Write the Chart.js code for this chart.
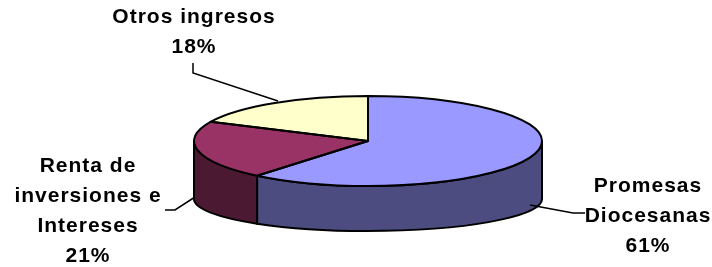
<!DOCTYPE html>
<html>
<head>
<meta charset="utf-8">
<script src="https://cdn.jsdelivr.net/npm/chart.js@4.4.0/dist/chart.umd.min.js"></script>
<style>
  html, body { margin: 0; padding: 0; background: #fff; }
  #wrap { width: 712px; height: 267px; }
</style>
</head>
<body>
<div id="wrap"><canvas id="pie3d" width="712" height="267"></canvas></div>
<script>
// data
var categories = ['Promesas Diocesanas', 'Renta de inversiones e Intereses', 'Otros ingresos'];
var shares = [61, 21, 18];
var labelLines = [['Promesas', 'Diocesanas'], ['Renta de', 'inversiones e', 'Intereses'], ['Otros ingresos']];
var topColors = ['#9999FF', '#993366', '#FFFFCC'];
var sideColors = ['#4C4C80', '#4C1933', '#80806A'];

// label placement (text centre x, first baseline y, leader polyline)
var labelLayout = [
  { x: 648, y: 192, line: [[530, 205], [573, 213], [585, 213]] },
  { x: 88, y: 172, line: [[165, 210], [175, 210], [195, 197]] },
  { x: 194, y: 23, line: [[193, 63], [193, 73], [278, 101]] }
];

var view = { cy: 141, ry: 45, depth: 58, ryBottom: 32 };

function frontRanges(a0, a1) {
  var out = [];
  for (var k = -1; k <= 1; k++) {
    var lo = Math.max(a0, 2 * Math.PI * k), hi = Math.min(a1, 2 * Math.PI * k + Math.PI);
    if (hi > lo) out.push([lo, hi]);
  }
  return out;
}

var pie3d = {
  id: 'pie3d',
  beforeDatasetsDraw: function (chart) {
    var ctx = chart.ctx;
    var arcs = chart.getDatasetMeta(0).data;
    ctx.save();
    ctx.lineWidth = 2;
    ctx.lineJoin = 'round';
    ctx.strokeStyle = '#000';
    arcs.forEach(function (arc, i) {
      var rx = arc.outerRadius;
      frontRanges(arc.startAngle, arc.endAngle).forEach(function (r) {
        ctx.beginPath();
        ctx.ellipse(arc.x, view.cy, rx, view.ry, 0, r[0], r[1]);
        ctx.ellipse(arc.x, view.cy + view.depth, rx, view.ryBottom, 0, r[1], r[0], true);
        ctx.closePath();
        ctx.fillStyle = sideColors[i];
        ctx.fill();
        ctx.stroke();
      });
    });
    ctx.restore();
    // squash the library's own slices into the tilted top face
    var a = arcs[0];
    ctx.save();
    ctx.translate(0, view.cy);
    ctx.scale(1, view.ry / a.outerRadius);
    ctx.translate(0, -a.y);
  },
  afterDatasetsDraw: function (chart) {
    var ctx = chart.ctx;
    ctx.restore();
    var arcs = chart.getDatasetMeta(0).data;
    ctx.save();
    ctx.lineWidth = 2;
    ctx.lineJoin = 'round';
    ctx.strokeStyle = '#000';
    arcs.forEach(function (arc) {
      ctx.beginPath();
      ctx.moveTo(arc.x, view.cy);
      ctx.ellipse(arc.x, view.cy, arc.outerRadius, view.ry, 0, arc.startAngle, arc.endAngle);
      ctx.closePath();
      ctx.stroke();
    });
    ctx.restore();
  },
  afterDraw: function (chart) {
    var ctx = chart.ctx;
    var total = shares.reduce(function (s, v) { return s + v; }, 0);
    ctx.save();
    ctx.strokeStyle = '#000';
    ctx.lineWidth = 1.5;
    labelLayout.forEach(function (L, i) {
      ctx.beginPath();
      L.line.forEach(function (p, j) { if (j === 0) ctx.moveTo(p[0], p[1]); else ctx.lineTo(p[0], p[1]); });
      ctx.stroke();
      var lines = labelLines[i].concat([Math.round(shares[i] / total * 100) + '%']);
      ctx.fillStyle = '#000';
      ctx.font = 'bold 21px "Liberation Sans", Arial, sans-serif';
      ctx.letterSpacing = '1px';
      ctx.textAlign = 'center';
      ctx.textBaseline = 'alphabetic';
      lines.forEach(function (t, j) { ctx.fillText(t, L.x, L.y + j * 30); });
    });
    ctx.restore();
  }
};

var pieCanvas = document.getElementById('pie3d').getContext('2d');
var pieChart = new Chart(pieCanvas, {
  type: 'pie',
  data: {
    labels: categories,
    datasets: [{
      data: shares,
      backgroundColor: topColors,
      borderWidth: 0,
      clip: false
    }]
  },
  options: {
    responsive: false,
    devicePixelRatio: 1,
    animation: false,
    events: [],
    radius: 174,
    layout: { padding: { left: 24, right: 0, top: 0, bottom: 0 } },
    plugins: {
      legend: { display: false },
      tooltip: { enabled: false }
    }
  },
  plugins: [pie3d]
});
</script>
</body>
</html>
